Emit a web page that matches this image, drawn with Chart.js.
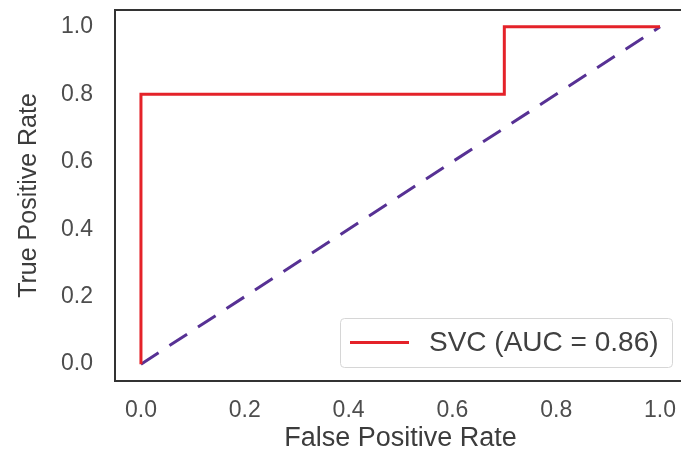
<!DOCTYPE html>
<html>
<head>
<meta charset="utf-8">
<script src="https://cdn.jsdelivr.net/npm/chart.js@4"></script>
<style>
  html, body { margin: 0; padding: 0; background: #fff; overflow: hidden; }
</style>
</head>
<body>
<canvas id="roc" width="700" height="466"></canvas>
<script>
// ROC curve points (false positive rate / true positive rate)
const fpr = [0.0, 0.0, 0.7, 0.7, 1.0];
const tpr = [0.0, 0.8, 0.8, 1.0, 1.0];
const chanceX = [0.0, 1.0];
const chanceY = [0.0, 1.0];
const tickValues = [0.0, 0.2, 0.4, 0.6, 0.8, 1.0];
const curveLabel = 'SVC (AUC = 0.86)';

const rocPoints = fpr.map((x, i) => ({ x, y: tpr[i] }));
const chancePoints = chanceX.map((x, i) => ({ x, y: chanceY[i] }));

const fontFamily = 'Arial, "Liberation Sans", sans-serif';

// axes frame (matplotlib style box)
const framePlugin = {
  id: 'frame',
  afterDatasetsDraw(chart) {
    const { ctx, chartArea: a } = chart;
    ctx.save();
    ctx.strokeStyle = '#333333';
    ctx.lineWidth = 2;
    ctx.strokeRect(a.left, a.top, a.right - a.left, a.bottom - a.top);
    ctx.restore();
  }
};

// legend box in the lower right corner of the plot
const innerLegend = {
  id: 'innerLegend',
  afterDraw(chart) {
    const { ctx, chartArea: a } = chart;
    const ds = chart.data.datasets[0];
    const w = 332, h = 49;
    const x = a.right - 14 - w;
    const y = a.bottom - 14 - h;
    ctx.save();
    ctx.fillStyle = 'rgba(255,255,255,0.9)';
    ctx.strokeStyle = '#d6d6d6';
    ctx.lineWidth = 1;
    ctx.beginPath();
    ctx.roundRect(x + 0.5, y + 0.5, w, h, 4);
    ctx.fill();
    ctx.stroke();
    ctx.strokeStyle = ds.borderColor;
    ctx.lineWidth = 3;
    ctx.beginPath();
    ctx.moveTo(x + 10, y + h / 2);
    ctx.lineTo(x + 69, y + h / 2);
    ctx.stroke();
    ctx.fillStyle = '#404040';
    ctx.font = '28px ' + fontFamily;
    ctx.textBaseline = 'middle';
    ctx.fillText(ds.label, x + 89, y + h / 2 + 1);
    ctx.restore();
  }
};

new Chart(document.getElementById('roc'), {
  type: 'scatter',
  data: {
    datasets: [
      {
        label: curveLabel,
        data: rocPoints,
        showLine: true,
        borderColor: '#e42229',
        borderWidth: 3,
        pointRadius: 0,
        tension: 0
      },
      {
        label: '',
        data: chancePoints,
        showLine: true,
        borderColor: '#573194',
        borderWidth: 3,
        borderDash: [21, 13],
        pointRadius: 0
      }
    ]
  },
  options: {
    responsive: false,
    animation: false,
    layout: { padding: { top: 10, right: 14, left: 0, bottom: 0 } },
    plugins: {
      legend: { display: false },
      tooltip: { enabled: false }
    },
    scales: {
      x: {
        type: 'linear',
        min: -0.05,
        max: 1.05,
        grid: { display: false, drawTicks: false },
        border: { display: false },
        afterBuildTicks: (s) => { s.ticks = tickValues.map(v => ({ value: v })); },
        afterFit: (s) => { s.height = 85; s.paddingLeft = 0; s.paddingRight = 0; },
        ticks: {
          padding: 16,
          color: '#4d4d4d',
          font: { size: 23, family: fontFamily },
          callback: (v) => Number(v).toFixed(1)
        },
        title: {
          display: true,
          text: 'False Positive Rate',
          color: '#3c3c3c',
          font: { size: 27, family: fontFamily },
          padding: { top: 0, bottom: 11 }
        }
      },
      y: {
        type: 'linear',
        min: -0.05,
        max: 1.05,
        grid: { display: false, drawTicks: false },
        border: { display: false },
        afterBuildTicks: (s) => { s.ticks = tickValues.map(v => ({ value: v })); },
        afterFit: (s) => { s.width = 115; s.paddingTop = 0; s.paddingBottom = 0; },
        ticks: {
          padding: 22,
          color: '#4d4d4d',
          font: { size: 23, family: fontFamily },
          callback: (v) => Number(v).toFixed(1)
        },
        title: {
          display: true,
          text: 'True Positive Rate',
          color: '#3c3c3c',
          font: { size: 25, family: fontFamily },
          padding: { top: 14, bottom: 0 }
        }
      }
    }
  },
  plugins: [framePlugin, innerLegend]
});
</script>
</body>
</html>
